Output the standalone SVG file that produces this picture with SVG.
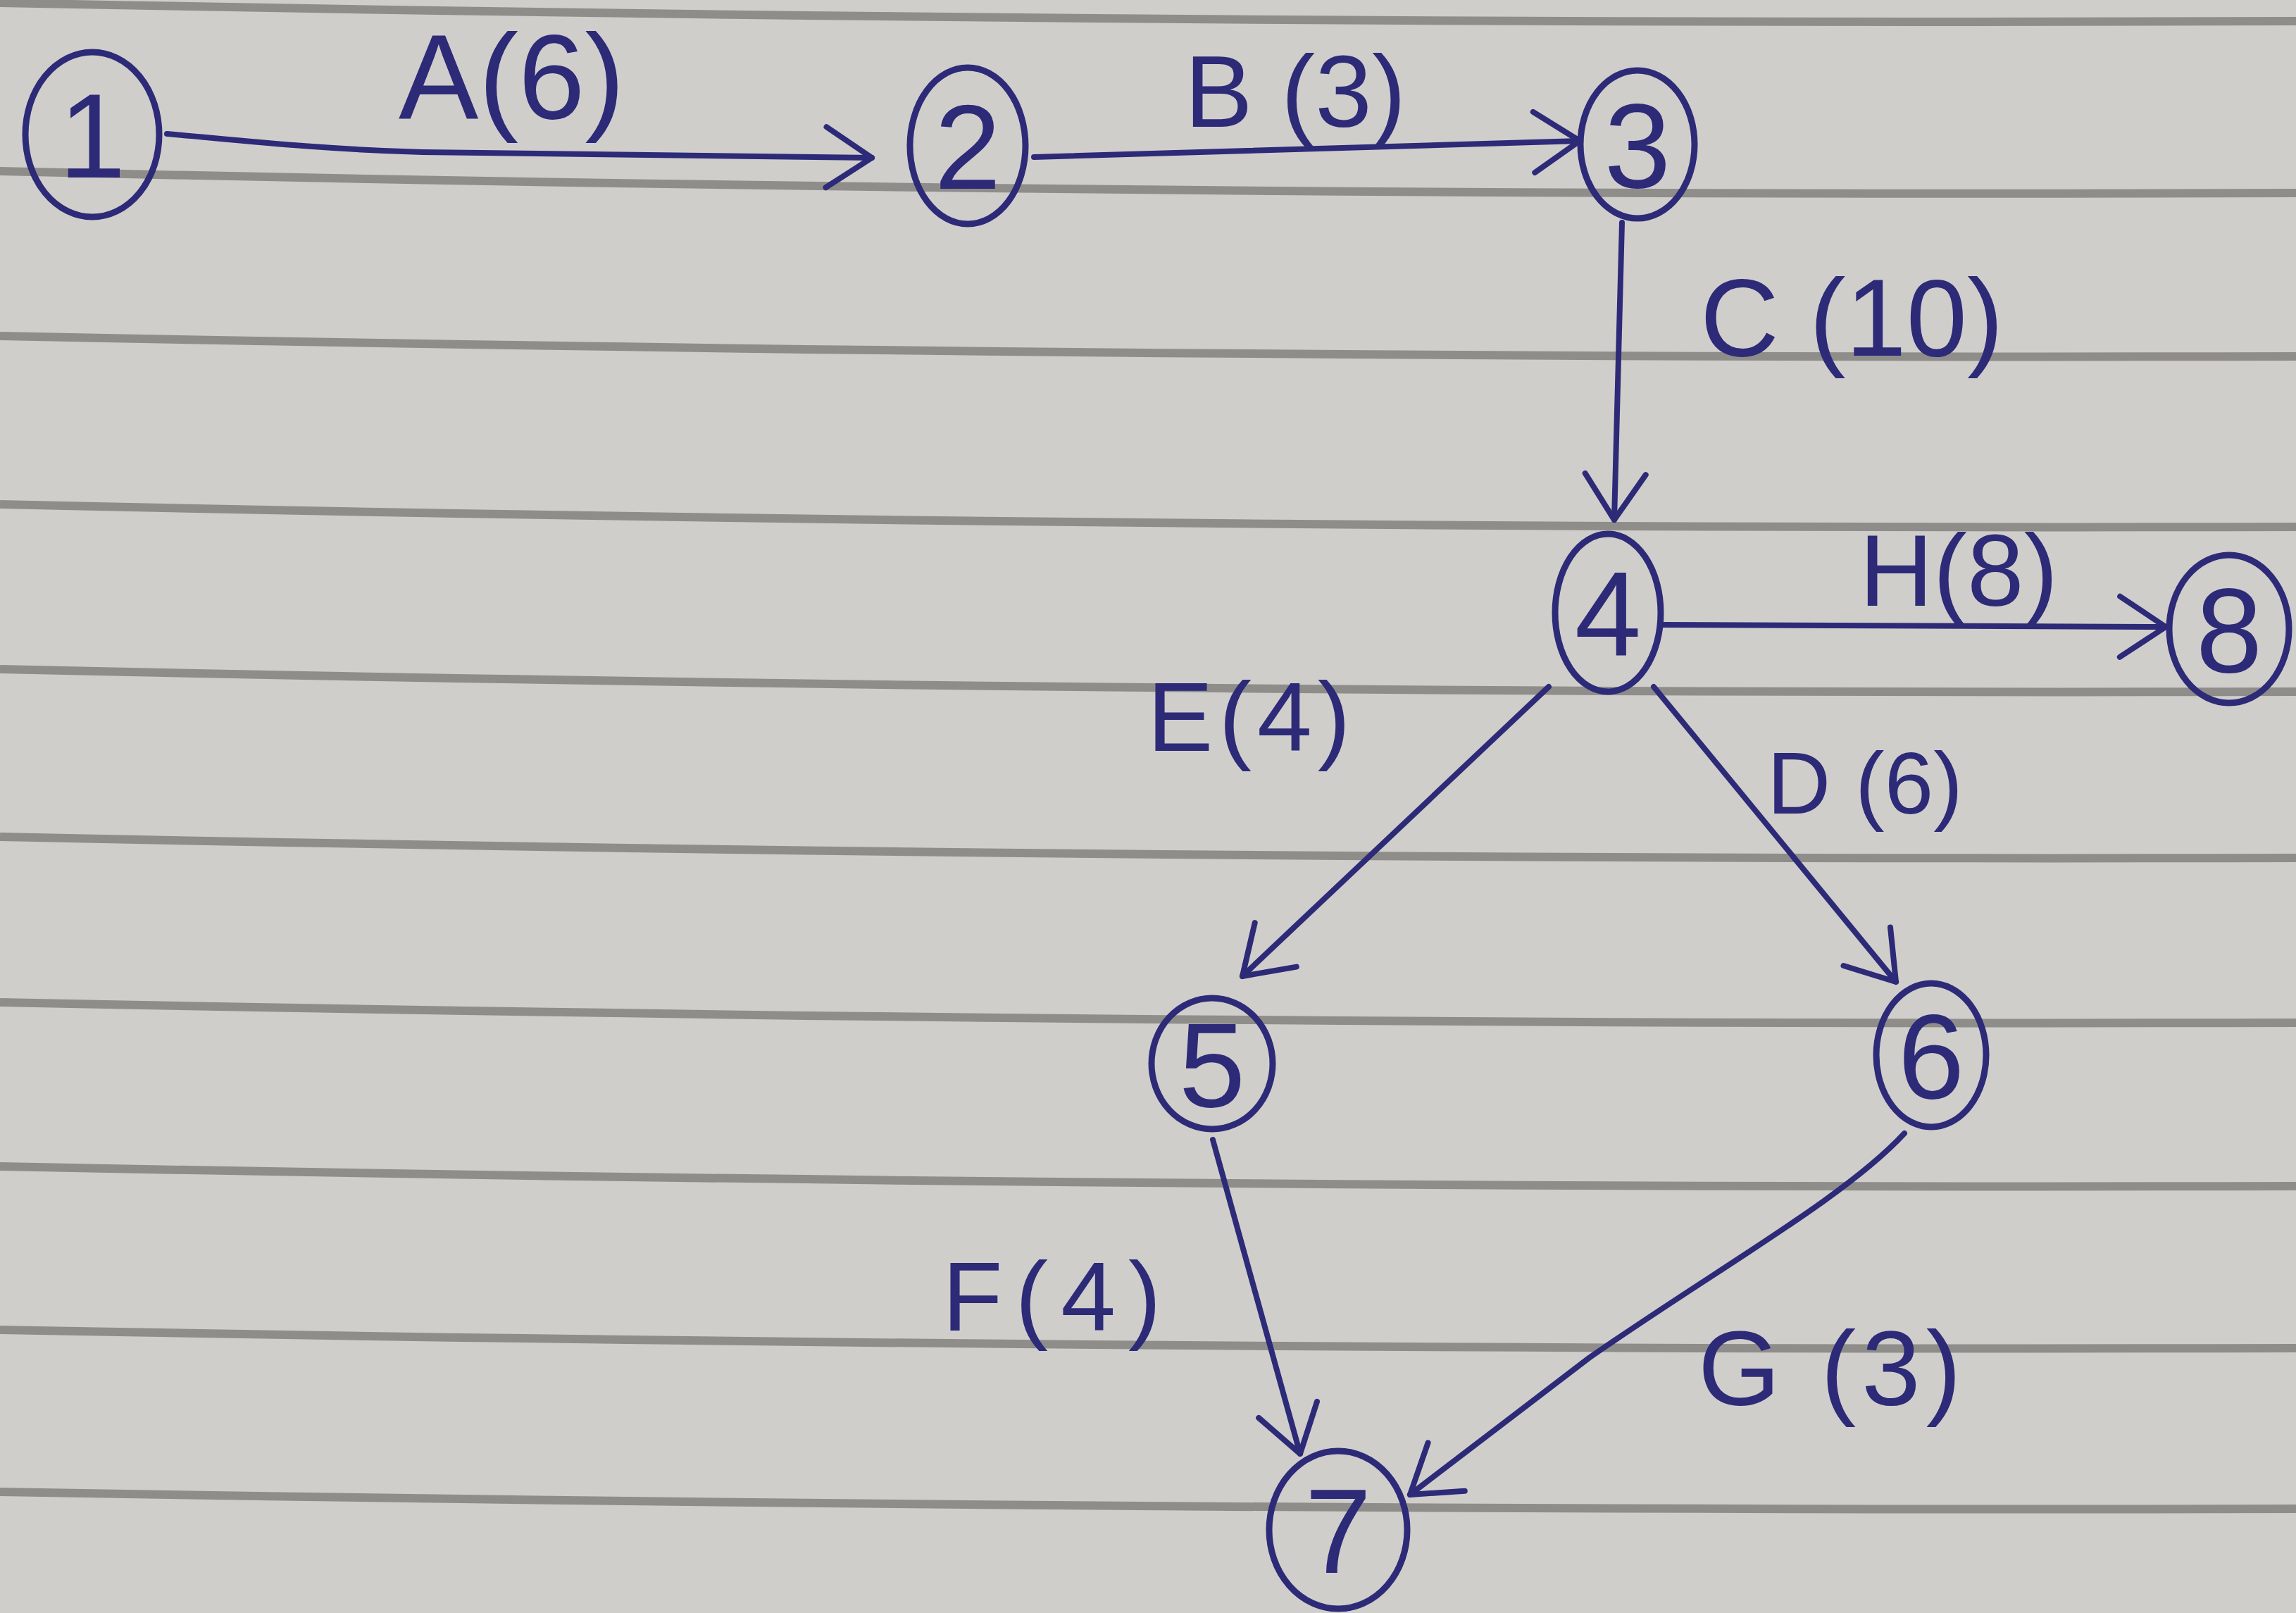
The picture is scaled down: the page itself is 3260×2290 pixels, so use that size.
<svg xmlns="http://www.w3.org/2000/svg" width="3260" height="2290" viewBox="0 0 3260 2290">
<style>
.rule{fill:none;stroke:#8f8d8a;stroke-width:12}
.node ellipse{fill:none;stroke:#2d2a78;stroke-width:9}
.node text{font-family:"Liberation Sans",Arial,sans-serif;font-size:170px;fill:#2d2a78;text-anchor:middle}
.edge{fill:none;stroke:#2d2a78;stroke-width:8;stroke-linecap:round;marker-end:url(#arr)}
.lbl{font-family:"Liberation Sans",Arial,sans-serif;fill:#2d2a78}
</style>
<defs>
<marker id="arr" markerUnits="userSpaceOnUse" markerWidth="100" markerHeight="110" refX="85" refY="55" orient="auto" viewBox="0 0 100 110">
<path d="M20 12 L85 55 L20 98" fill="none" stroke="#2d2a78" stroke-width="8" stroke-linecap="round" stroke-linejoin="round"/>
</marker>
</defs>
<rect x="0" y="0" width="3260" height="2290" fill="#d0cecb"/>
<g id="paper-rules">
<path class="rule" d="M0 4 Q1600 36 3260 30"/>
<path class="rule" d="M0 243 Q1600 280 3260 274"/>
<path class="rule" d="M0 477 Q1600 510 3260 506"/>
<path class="rule" d="M0 716 Q1600 752 3260 748"/>
<path class="rule" d="M0 950 Q1600 986 3260 982"/>
<path class="rule" d="M0 1188 Q1600 1222 3260 1218"/>
<path class="rule" d="M0 1423 Q1600 1456 3260 1452"/>
<path class="rule" d="M0 1656 Q1600 1688 3260 1684"/>
<path class="rule" d="M0 1888 Q1600 1918 3260 1914"/>
<path class="rule" d="M0 2118 Q1600 2146 3260 2142"/>
</g>
<g id="connectors">
<path id="e-A" class="edge" d="M237 190 C330 198 450 212 600 216 L1238 224"/>
<path id="e-B" class="edge" d="M1468 223 L2243 200"/>
<path id="e-C" class="edge" d="M2303 316 L2292 738"/>
<path id="e-H" class="edge" d="M2359 887 L3075 890"/>
<path id="e-E" class="edge" d="M2199 975 L1764 1386"/>
<path id="e-D" class="edge" d="M2348 975 L2692 1394"/>
<path id="e-F" class="edge" d="M1722 1618 L1846 2064"/>
<path id="e-G" class="edge" d="M2704 1609 C2620 1700 2440 1800 2256 1928 L2002 2122"/>
</g>
<g id="labels">
<text class="lbl" x="566" y="168" font-size="170">A(6)</text>
<text class="lbl" x="1682" y="180" font-size="145">B (3)</text>
<text class="lbl" x="2414" y="505" font-size="155">C (10)</text>
<text class="lbl" x="2640" y="860" font-size="145">H(8)</text>
<text class="lbl" x="1629" y="1066" font-size="140" letter-spacing="8">E(4)</text>
<text class="lbl" x="2509" y="1155" font-size="125">D (6)</text>
<text class="lbl" x="1338" y="1889" font-size="140" letter-spacing="18">F(4)</text>
<text class="lbl" x="2411" y="1995" font-size="150" letter-spacing="8">G (3)</text>
</g>
<g id="n1" class="node"><ellipse cx="131" cy="191" rx="95" ry="117"/><text x="131" y="252">1</text></g>
<g id="n2" class="node"><ellipse cx="1374" cy="207" rx="82" ry="111"/><text x="1374" y="268">2</text></g>
<g id="n3" class="node"><ellipse cx="2325" cy="205" rx="81" ry="105"/><text x="2325" y="266">3</text></g>
<g id="n4" class="node"><ellipse cx="2283" cy="870" rx="75" ry="112"/><text x="2283" y="931">4</text></g>
<g id="n8" class="node"><ellipse cx="3165" cy="893" rx="85" ry="105"/><text x="3165" y="954">8</text></g>
<g id="n5" class="node"><ellipse cx="1721" cy="1510" rx="86" ry="93"/><text x="1721" y="1571">5</text></g>
<g id="n6" class="node"><ellipse cx="2742" cy="1498" rx="78" ry="102"/><text x="2742" y="1559">6</text></g>
<g id="n7" class="node"><ellipse cx="1900" cy="2172" rx="98" ry="112"/><text x="1900" y="2233">7</text></g>
</svg>
